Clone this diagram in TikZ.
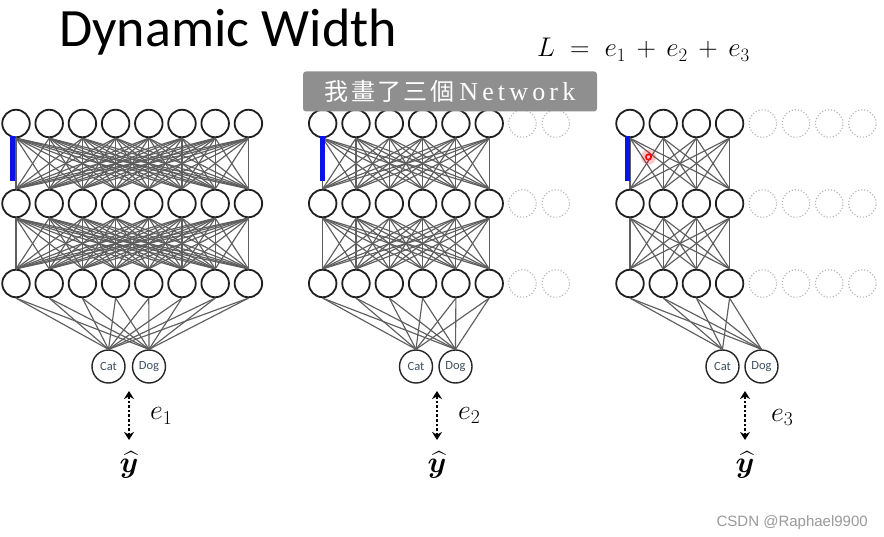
\RequirePackage{fix-cm}
\documentclass[tikz,border=0pt]{standalone}
\usepackage{amsmath,bm}
\usepackage{fontspec}
\usetikzlibrary{arrows.meta}
\setmainfont{Carlito}
\newfontfamily\cjkfont[LetterSpace=10]{Noto Sans CJK TC}
\newfontfamily\netfont[LetterSpace=16]{Liberation Serif}
\newfontfamily\wmfont{Liberation Sans}
\definecolor{linkcol}{HTML}{5E5E5E}
\definecolor{catcol}{HTML}{3F4F5F}
\definecolor{bannercol}{HTML}{8F8F8F}
\definecolor{wmcol}{HTML}{9A9A9A}
\definecolor{barcol}{HTML}{0A14E6}
\begin{document}
\begin{tikzpicture}[x=1pt,y=-1pt,
  neuron/.style={circle, draw=black!88, line width=1.8pt, minimum size=27.5pt, inner sep=0pt},
  ghost/.style={circle, draw=black!30, dotted, line width=1.1pt, minimum size=27.5pt, inner sep=0pt},
  outn/.style={circle, draw=black!85, line width=1.4pt, minimum size=33pt, inner sep=0pt, font=\fontsize{12.5}{13}\selectfont, text=catcol},
  link/.style={draw=linkcol, line width=1.15pt},
  errarrow/.style={line width=2.6pt, dash pattern=on 2.6pt off 2pt, {Stealth[length=8pt,width=10pt]}-{Stealth[length=8pt,width=10pt]}},
  elabel/.style={anchor=base west, inner sep=0pt, font=\fontsize{28}{32}\selectfont},
  yhat/.style={inner sep=0pt, font=\fontsize{30}{34}\selectfont},
  bar/.style={fill=barcol}
]
\useasboundingbox (0,0) rectangle (884,537);
\fill[white] (0,0) rectangle (884,537);

% title and loss
\node[anchor=base west, inner sep=0pt, font=\fontsize{54}{60}\selectfont] (title) at (59,46.7) {Dynamic Width};
\node[anchor=base west, inner sep=0pt, font=\fontsize{27}{30}\selectfont] (loss) at (537,57)
  {$L \mathrel{\;=\;} e_1 \mathbin{\,+\,} e_2 \mathbin{\,+\,} e_3$};

% ---------- left network (8 wide)
\foreach \i in {0,...,7} {
  \foreach \yy [count=\r] in {123.5,203.5,283.5}
    \node[neuron] (L\r-\i) at ({16+33.2*\i},\yy) {};
}
\foreach \i in {0,...,7} \foreach \j in {0,...,7} {
  \draw[link] (L1-\i.south) -- (L2-\j.north);
  \draw[link] (L2-\i.south) -- (L3-\j.north);
}
\node[outn] (Lcat) at (108.5,366.5) {Cat};
\node[outn] (Ldog) at (149,366.5) {Dog};
\foreach \i in {0,...,7} {
  \draw[link] (L3-\i.south) -- (Lcat.north);
  \draw[link] (L3-\i.south) -- (Ldog.north);
}
\fill[bar] (10,136.5) rectangle (15,181);
\coordinate (Lat) at (129,391);
\coordinate (Lab) at (129,440);
\draw[errarrow] (Lat) -- (Lab);
\node[elabel] (e1) at (150,420) {$e_1$};
\node[yhat] (y1) at (129,465) {$\bm{\widehat{y}}$};

% ---------- middle network (6 of 8)
\foreach \i in {0,...,5} {
  \foreach \yy [count=\r] in {123.5,203.5,283.5}
    \node[neuron] (M\r-\i) at ({322.7+33.3*\i},\yy) {};
}
\foreach \i in {6,7} {
  \foreach \yy [count=\r] in {123.5,203.5,283.5}
    \node[ghost] (MG\r-\i) at ({322.7+33.3*\i},\yy) {};
}
\foreach \i in {0,...,5} \foreach \j in {0,...,5} {
  \draw[link] (M1-\i.south) -- (M2-\j.north);
  \draw[link] (M2-\i.south) -- (M3-\j.north);
}
\node[outn] (Mcat) at (416,366.5) {Cat};
\node[outn] (Mdog) at (455.5,366.5) {Dog};
\foreach \i in {0,...,5} {
  \draw[link] (M3-\i.south) -- (Mcat.north);
  \draw[link] (M3-\i.south) -- (Mdog.north);
}
\fill[bar] (320,136.5) rectangle (325,181);
\coordinate (Mat) at (437,391);
\coordinate (Mab) at (437,440);
\draw[errarrow] (Mat) -- (Mab);
\node[elabel] (e2) at (458,419) {$e_2$};
\node[yhat] (y2) at (437,465) {$\bm{\widehat{y}}$};

% ---------- right network (4 of 8)
\foreach \i in {0,...,3} {
  \foreach \yy [count=\r] in {123.5,203.5,283.5}
    \node[neuron] (R\r-\i) at ({630+33.2*\i},\yy) {};
}
\foreach \i in {4,...,7} {
  \foreach \yy [count=\r] in {123.5,203.5,283.5}
    \node[ghost] (RG\r-\i) at ({630+33.2*\i},\yy) {};
}
\foreach \i in {0,...,3} \foreach \j in {0,...,3} {
  \draw[link] (R1-\i.south) -- (R2-\j.north);
  \draw[link] (R2-\i.south) -- (R3-\j.north);
}
\node[outn] (Rcat) at (722.5,366.5) {Cat};
\node[outn] (Rdog) at (761.5,366.5) {Dog};
\foreach \i in {0,...,3} {
  \draw[link] (R3-\i.south) -- (Rcat.north);
  \draw[link] (R3-\i.south) -- (Rdog.north);
}
\fill[bar] (625,136.5) rectangle (630,181);
\coordinate (pointer) at (648.5,157);
\fill[red, opacity=0.22] (pointer) circle (7.5);
\draw[red, line width=1.6pt] (pointer) circle (2.7);
\coordinate (Rat) at (745,391);
\coordinate (Rab) at (745,440);
\draw[errarrow] (Rat) -- (Rab);
\node[elabel] (e3) at (771,421) {$e_3$};
\node[yhat] (y3) at (745,465) {$\bm{\widehat{y}}$};

% banner
\node[fill=bannercol, rounded corners=3pt, minimum width=294pt, minimum height=40pt, inner sep=0pt, text=white] (banner) at (450,91.5)
  {{\cjkfont\fontsize{24}{28}\selectfont 我畫了三個}\hspace{5pt}{\netfont\fontsize{26}{28}\selectfont Network}\hspace{13pt}};

% watermark
\node[anchor=base east, inner sep=0pt, text=wmcol, font=\wmfont\fontsize{15}{17}\selectfont] (wm) at (868,526) {CSDN @Raphael9900};
\end{tikzpicture}
\end{document}
